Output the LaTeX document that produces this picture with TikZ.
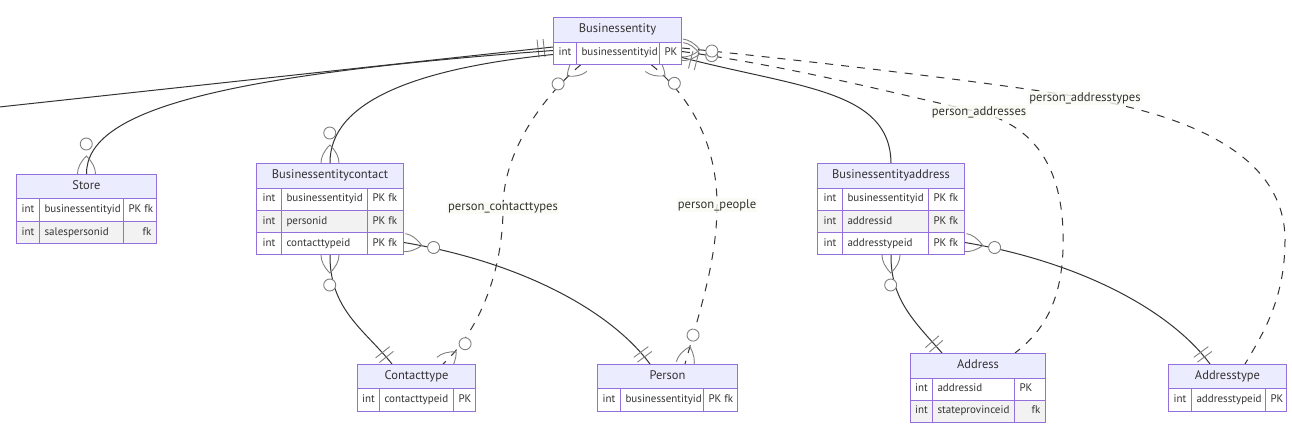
\documentclass[tikz,border=0pt]{standalone}
\usepackage{fontspec}
\setmainfont{PT Sans}
\usetikzlibrary{calc,decorations.markings}
\definecolor{bdr}{HTML}{9370DB}
\definecolor{hdrf}{HTML}{ECECFF}
\definecolor{rowg}{HTML}{F2F2F2}
\definecolor{txt}{HTML}{333333}
\definecolor{lnc}{HTML}{333333}
\definecolor{mkc}{HTML}{808080}
\definecolor{lblf}{HTML}{FBFBF4}
\pgfdeclarelayer{back}
\pgfdeclarelayer{bg}
\pgfsetlayers{back,bg,main}
\newcommand\hfont{\fontsize{12.5}{14}\selectfont}
\newcommand\rfont{\fontsize{11}{13}\selectfont}
\newcommand\lfont{\fontsize{12.6}{14}\selectfont}
\newcommand\zmany{\draw[mk] (0pt,9pt) .. controls (6pt,9pt) and (12pt,6pt) .. (18pt,0pt) .. controls (12pt,-6pt) and (6pt,-9pt) .. (0pt,-9pt); \draw[mk,fill=white] (30pt,0pt) circle (6pt);}
\newcommand\oone{\draw[mk] (9pt,-9pt) -- (9pt,9pt) (15pt,-9pt) -- (15pt,9pt);}
\newcommand\erhdr[6]{\node[hdr, minimum width=#4pt, minimum height=#5pt] (#1) at (#2,#3) {#6};}
\newcommand\ercell[8]{\node[cell, fill=#6, minimum width=#4pt, minimum height=#5pt] (#1) at (#2,#3) {\makebox[\dimexpr#4pt-10pt\relax][#7]{#8}};}
\newcommand\erent[5]{\node[ent, minimum width=#4pt, minimum height=#5pt] (#1) at (#2,#3) {};}
\tikzset{
  mk/.style={draw=mkc, line width=0.9pt, solid},
  ent/.style={draw=bdr, line width=1pt, inner sep=0pt, anchor=north west},
  hdr/.style={draw=bdr, line width=1pt, fill=hdrf, text=txt, font=\hfont, inner sep=0pt, anchor=north west, text height=9pt, text depth=3pt},
  cell/.style={draw=bdr, line width=1pt, text=txt, font=\rfont, inner xsep=5pt, inner ysep=0pt, anchor=north west, text height=8pt, text depth=2.5pt},
  lbl/.style={fill=lblf, fill opacity=0.8, text opacity=1, text=txt, font=\lfont, inner xsep=1pt, inner ysep=1pt},
  rel/.style={draw=lnc, line width=1pt},
  drel/.style={rel, dash pattern=on 8pt off 8pt},
  zmS/.style={postaction={decorate, decoration={markings, mark=at position 0 with {\zmany}}}},
  zmE/.style={postaction={decorate, decoration={markings, mark=at position 1 with {\begin{scope}[xscale=-1]\zmany\end{scope}}}}},
  ooS/.style={postaction={decorate, decoration={markings, mark=at position 0 with {\oone}}}},
  ooE/.style={postaction={decorate, decoration={markings, mark=at position 1 with {\begin{scope}[xscale=-1]\oone\end{scope}}}}}
}
\begin{document}
\begin{tikzpicture}[x=1pt,y=-1pt]
\useasboundingbox (0,0) rectangle (1292,426);
\begin{pgfonlayer}{back}
\fill[white] (0,0) rectangle (1292,426);
\end{pgfonlayer}
% Businessentity
\erhdr{beH}{553}{17}{128}{24.5}{Businessentity}
\ercell{beT1}{553}{41.5}{23}{22}{white}{c}{int}
\ercell{beN1}{576}{41.5}{83}{22}{white}{l}{businessentityid}
\ercell{beK1}{659}{41.5}{22}{22}{white}{l}{PK}
\erent{be}{553}{17}{128}{46.5}
% Store
\erhdr{stH}{16}{174}{140}{24}{Store}
\ercell{stT1}{16}{198}{23}{23}{white}{c}{int}
\ercell{stN1}{39}{198}{84}{23}{white}{l}{businessentityid}
\ercell{stK1}{123}{198}{33}{23}{white}{l}{PK fk}
\ercell{stT2}{16}{221}{23}{22}{rowg}{c}{int}
\ercell{stN2}{39}{221}{84}{22}{rowg}{l}{salespersonid}
\ercell{stK2}{123}{221}{33}{22}{rowg}{r}{fk}
\erent{st}{16}{174}{140}{69}
% Businessentitycontact
\erhdr{becH}{256}{163}{147}{24.5}{Businessentitycontact}
\ercell{becT1}{256}{187.5}{25}{22}{white}{c}{int}
\ercell{becN1}{281}{187.5}{86}{22}{white}{l}{businessentityid}
\ercell{becK1}{367}{187.5}{36}{22}{white}{l}{PK fk}
\ercell{becT2}{256}{209.5}{25}{22.5}{rowg}{c}{int}
\ercell{becN2}{281}{209.5}{86}{22.5}{rowg}{l}{personid}
\ercell{becK2}{367}{209.5}{36}{22.5}{rowg}{l}{PK fk}
\ercell{becT3}{256}{232}{25}{22}{white}{c}{int}
\ercell{becN3}{281}{232}{86}{22}{white}{l}{contacttypeid}
\ercell{becK3}{367}{232}{36}{22}{white}{l}{PK fk}
\erent{bec}{256}{163}{147}{91}
% Contacttype
\erhdr{ctH}{357}{364}{118}{24}{Contacttype}
\ercell{ctT1}{357}{388}{22}{23}{white}{c}{int}
\ercell{ctN1}{379}{388}{74}{23}{white}{l}{contacttypeid}
\ercell{ctK1}{453}{388}{22}{23}{white}{l}{PK}
\erent{ct}{357}{364}{118}{47}
% Person
\erhdr{peH}{597}{364}{140}{24}{Person}
\ercell{peT1}{597}{388}{23}{23}{white}{c}{int}
\ercell{peN1}{620}{388}{83}{23}{white}{l}{businessentityid}
\ercell{peK1}{703}{388}{34}{23}{white}{l}{PK fk}
\erent{pe}{597}{364}{140}{47}
% Businessentityaddress
\erhdr{beaH}{817}{163}{147}{24.5}{Businessentityaddress}
\ercell{beaT1}{817}{187.5}{25}{22}{white}{c}{int}
\ercell{beaN1}{842}{187.5}{86}{22}{white}{l}{businessentityid}
\ercell{beaK1}{928}{187.5}{36}{22}{white}{l}{PK fk}
\ercell{beaT2}{817}{209.5}{25}{22.5}{rowg}{c}{int}
\ercell{beaN2}{842}{209.5}{86}{22.5}{rowg}{l}{addressid}
\ercell{beaK2}{928}{209.5}{36}{22.5}{rowg}{l}{PK fk}
\ercell{beaT3}{817}{232}{25}{22}{white}{c}{int}
\ercell{beaN3}{842}{232}{86}{22}{white}{l}{addresstypeid}
\ercell{beaK3}{928}{232}{36}{22}{white}{l}{PK fk}
\erent{bea}{817}{163}{147}{91}
% Address
\erhdr{adH}{910}{353}{135}{24.5}{Address}
\ercell{adT1}{910}{377.5}{22}{22}{white}{c}{int}
\ercell{adN1}{932}{377.5}{82}{22}{white}{l}{addressid}
\ercell{adK1}{1014}{377.5}{31}{22}{white}{l}{PK}
\ercell{adT2}{910}{399.5}{22}{22}{rowg}{c}{int}
\ercell{adN2}{932}{399.5}{82}{22}{rowg}{l}{stateprovinceid}
\ercell{adK2}{1014}{399.5}{31}{22}{rowg}{r}{fk}
\erent{ad}{910}{353}{135}{68.5}
% Addresstype
\erhdr{atH}{1168}{364}{118}{24}{Addresstype}
\ercell{atT1}{1168}{388}{23}{23}{white}{c}{int}
\ercell{atN1}{1191}{388}{74}{23}{white}{l}{addresstypeid}
\ercell{atK1}{1265}{388}{21}{23}{white}{l}{PK}
\erent{at}{1168}{364}{118}{47}
% labels
\node[lbl] (lblCT) at (503,208) {person\_contacttypes};
\node[lbl] (lblPP) at (717,205) {person\_people};
\node[lbl] (lblPA) at (979,112) {person\_addresses};
\node[lbl] (lblPAT) at (1085,98) {person\_addresstypes};
\coordinate (offL) at (-10,108);
% connectors
\begin{pgfonlayer}{bg}
\draw[rel, ooE] (offL) -- ($(be.west)+(0,6.25)$);
\draw[rel, zmS, ooE] (st.north) .. controls (86,110) and (220,75) .. ($(be.west)+(0,9.75)$);
\draw[rel, zmS, ooE] (bec.north) .. controls (329.5,100) and (420,68) .. ($(be.west)+(0,13.75)$);
\draw[drel, zmS, zmE] ($(be.south west)+(28,0)$) .. controls (545,95) and (503,150) .. (lblCT.center) .. controls (503,270) and (480,330) .. ($(ct.north west)+(86,0)$);
\draw[drel, zmS, zmE] ($(be.south west)+(98,0)$) .. controls (695,100) and (717,150) .. (lblPP.center) .. controls (717,260) and (700,310) .. ($(pe.north west)+(88,0)$);
\draw[rel, ooS, zmE] ($(be.east)+(0,16.75)$) .. controls (800,88) and (890,90) .. (bea.north);
\draw[drel, zmS, zmE] ($(be.east)+(0,10.75)$) .. controls (800,68) and (900,95) .. (lblPA.center) .. controls (1050,130) and (1065,190) .. (1063,250) .. controls (1061,300) and (1045,330) .. ($(ad.north west)+(105,0)$);
\draw[drel, zmS, zmE] ($(be.east)+(0,7.25)$) .. controls (800,60) and (990,82) .. (lblPAT.center) .. controls (1200,118) and (1285,160) .. (1285,240) .. controls (1285,300) and (1262,335) .. ($(at.north west)+(77,0)$);
\draw[rel, zmS, ooE] (bec.south) .. controls (329.5,310) and (365,330) .. ($(ct.north west)+(35,0)$);
\draw[rel, zmS, ooE] ($(bec.east)+(0,33.5)$) .. controls (520,262) and (610,310) .. ($(pe.north west)+(53,0)$);
\draw[rel, zmS, ooE] (bea.south) .. controls (890.5,300) and (915,322) .. ($(ad.north west)+(32,0)$);
\draw[rel, zmS, ooE] ($(bea.east)+(0,33.5)$) .. controls (1080,262) and (1170,310) .. ($(at.north west)+(42,0)$);
\end{pgfonlayer}
\end{tikzpicture}
\end{document}
